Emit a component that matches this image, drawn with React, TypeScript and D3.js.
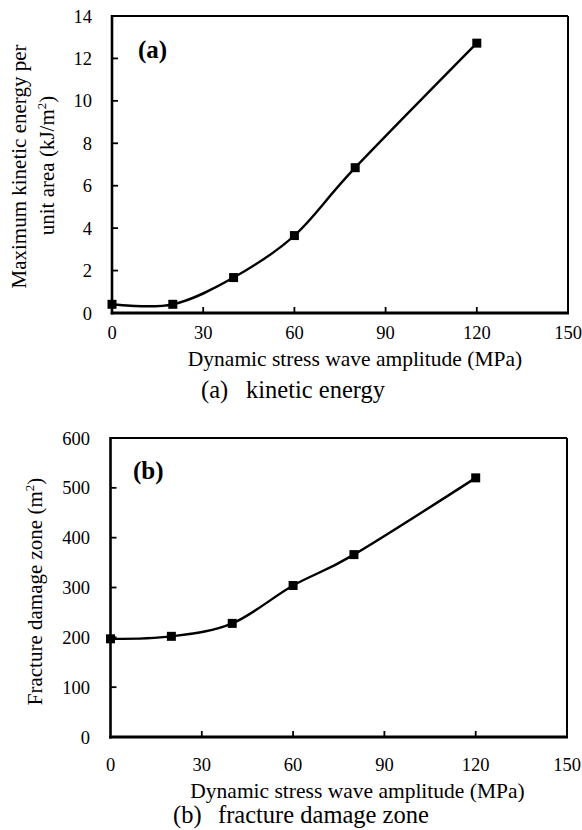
import React from "react";
import * as d3 from "d3";

const amplitudes = [0, 20, 40, 60, 80, 120];
const kineticEnergy = [0.41, 0.41, 1.67, 3.65, 6.85, 12.72];
const damageZone = [197, 202, 228, 304, 366, 520];
const xTicks = [0, 30, 60, 90, 120, 150];
const yTicksA = [0, 2, 4, 6, 8, 10, 12, 14];
const yTicksB = [0, 100, 200, 300, 400, 500, 600];

const FONT = "Liberation Serif";

type PanelProps = {
  xs: number[];
  ys: number[];
  yDomain: [number, number];
  yTicks: number[];
  left: number;
  right: number;
  top: number;
  bottom: number;
  label: string;
  labelX: number;
  labelY: number;
  yLabelX: number;
  xTickY: number;
  xTitleX: number;
  xTitleY: number;
  capTagX: number;
  capTextX: number;
  captionY: number;
  capTag: string;
  capText: string;
  yTitle: React.ReactNode;
};

function Panel(p: PanelProps) {
  const x = d3.scaleLinear().domain([0, 150]).range([p.left, p.right]);
  const y = d3.scaleLinear().domain(p.yDomain).range([p.bottom, p.top]);
  const pts: [number, number][] = p.xs.map((v, i) => [x(v), y(p.ys[i])]);
  const line = d3.line().curve(d3.curveCardinal.tension(0))(pts) || "";
  const tickLen = 6;
  const ms = 9;
  return (
    <g style={{ fontFamily: FONT }} fill="#000">
      <line x1={p.left} x2={p.right} y1={p.top} y2={p.top} stroke="#000" strokeWidth={2} />
      <line x1={p.right} x2={p.right} y1={p.top} y2={p.bottom} stroke="#000" strokeWidth={2} />
      <line x1={p.left} x2={p.left} y1={p.top - 1} y2={p.bottom + 1.5} stroke="#000" strokeWidth={2.6} />
      <line x1={p.left - 1.3} x2={p.right + 1} y1={p.bottom} y2={p.bottom} stroke="#000" strokeWidth={2.8} />
      {xTicks.map((t) => (
        <g key={"x" + t}>
          {t > 0 && t < 150 && (
            <line x1={x(t)} x2={x(t)} y1={p.bottom} y2={p.bottom - tickLen} stroke="#000" strokeWidth={1.8} />
          )}
          <text x={x(t)} y={p.xTickY} fontSize={18.5} textAnchor="middle" style={{ fontFamily: FONT }}>
            {t}
          </text>
        </g>
      ))}
      {p.yTicks.map((t) => (
        <g key={"y" + t}>
          {t !== p.yDomain[0] && t !== p.yDomain[1] && (
            <line x1={p.left} x2={p.left + tickLen} y1={y(t)} y2={y(t)} stroke="#000" strokeWidth={1.8} />
          )}
          <text x={p.yLabelX} y={y(t) + 6.5} fontSize={18.5} textAnchor="end" style={{ fontFamily: FONT }}>
            {t}
          </text>
        </g>
      ))}
      <path d={line} fill="none" stroke="#000" strokeWidth={2.4} />
      {pts.map(([px, py], i) => (
        <rect key={i} x={px - ms / 2} y={py - ms / 2} width={ms} height={ms} fill="#000" />
      ))}
      <text x={p.labelX} y={p.labelY} fontSize={25} fontWeight="bold" style={{ fontFamily: FONT }}>
        {p.label}
      </text>
      {p.yTitle}
      <text x={p.xTitleX} y={p.xTitleY} fontSize={21.5} textAnchor="middle" style={{ fontFamily: FONT }}>
        Dynamic stress wave amplitude (MPa)
      </text>
      <text x={p.capTagX} y={p.captionY} fontSize={24.5} style={{ fontFamily: FONT }}>
        {p.capTag}
      </text>
      <text x={p.capTextX} y={p.captionY} fontSize={24.5} style={{ fontFamily: FONT }}>
        {p.capText}
      </text>
    </g>
  );
}

export default function App() {
  const centerA = (16 + 313) / 2;
  const centerB = (438 + 737) / 2;
  return (
    <svg
      width={582}
      height={830}
      style={{ position: "absolute", left: 0, top: 0, background: "#fff", fontFamily: FONT }}
    >
      <rect x={0} y={0} width={582} height={830} fill="#fff" />
      <Panel
        xs={amplitudes}
        ys={kineticEnergy}
        yDomain={[0, 14]}
        yTicks={yTicksA}
        left={112}
        right={568}
        top={16}
        bottom={313}
        label="(a)"
        labelX={138}
        labelY={58}
        yLabelX={92}
        xTickY={338.5}
        xTitleX={355}
        xTitleY={366}
        capTagX={201}
        capTextX={246}
        captionY={398}
        capTag="(a)"
        capText="kinetic energy"
        yTitle={
          <g fontSize={21} style={{ fontFamily: FONT }}>
            <text transform={`translate(26,${centerA + 2}) rotate(-90)`} textAnchor="middle">
              Maximum kinetic energy per
            </text>
            <text transform={`translate(54,${centerA + 1}) rotate(-90)`} textAnchor="middle">
              unit area (kJ/m
              <tspan fontSize={13} dy={-8}>2</tspan>
              <tspan dy={8}>)</tspan>
            </text>
          </g>
        }
      />
      <Panel
        xs={amplitudes}
        ys={damageZone}
        yDomain={[0, 600]}
        yTicks={yTicksB}
        left={110.5}
        right={567}
        top={438}
        bottom={737}
        label="(b)"
        labelX={133}
        labelY={479}
        yLabelX={90}
        xTickY={770.5}
        xTitleX={357.5}
        xTitleY={798}
        capTagX={173}
        capTextX={218}
        captionY={823}
        capTag="(b)"
        capText="fracture damage zone"
        yTitle={
          <g fontSize={21} style={{ fontFamily: FONT }}>
            <text transform={`translate(42,${centerB + 4}) rotate(-90)`} textAnchor="middle">
              Fracture damage zone (m
              <tspan fontSize={13} dy={-8}>2</tspan>
              <tspan dy={8}>)</tspan>
            </text>
          </g>
        }
      />
    </svg>
  );
}
